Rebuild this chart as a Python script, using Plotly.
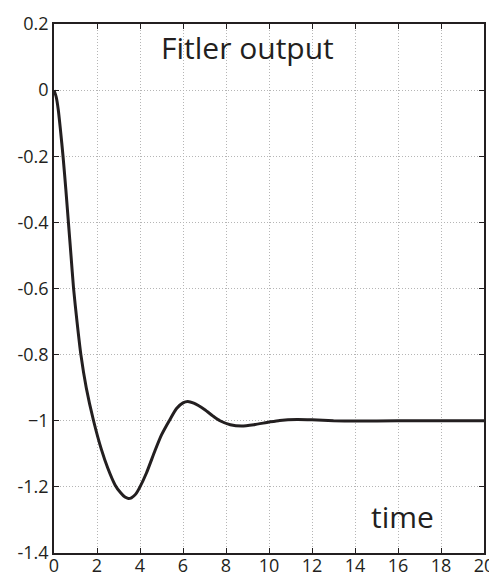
import plotly.graph_objects as go

# Data
time_vals = [0, 0.1, 0.2, 0.3, 0.42, 0.55, 0.67, 0.79, 0.91, 1.07, 1.25, 1.5, 1.84,
             2.2, 2.5, 2.84, 3.1, 3.3, 3.46, 3.6, 3.8, 4.0, 4.3, 4.7, 5.0, 5.36, 5.7, 6.0,
             6.22, 6.5, 7.0, 7.4, 7.72, 8.2, 8.73, 9.3, 10.0, 10.5, 11.3, 12, 13,
             14, 16, 18, 20]
output_vals = [0, -0.02, -0.06, -0.12, -0.2, -0.3, -0.4, -0.5, -0.6, -0.7, -0.8, -0.9, -1.0,
               -1.086, -1.143, -1.194, -1.218, -1.231, -1.235, -1.233, -1.222, -1.2, -1.158,
               -1.09, -1.043, -1.0, -0.963, -0.946, -0.942, -0.947, -0.966, -0.986, -1.0,
               -1.012, -1.016, -1.012, -1.004, -0.999, -0.996, -0.997, -1.0, -1.001,
               -1.0, -1.0, -1.0]

x_tick_vals = [0, 2, 4, 6, 8, 10, 12, 14, 16, 18, 20]
x_tick_text = ["0", "2", "4", "6", "8", "10", "12", "14", "16", "18", "20"]
y_tick_vals = [0.2, 0, -0.2, -0.4, -0.6, -0.8, -1.0, -1.2, -1.4]
y_tick_text = ["0.2", "0", "-0.2", "-0.4", "-0.6", "-0.8", "\u22121", "-1.2", "-1.4"]

title_text = "Fitler output"
xlabel_text = "time"

ink = "#231f20"
font_family = "Open Sans, Liberation Sans, sans-serif"

fig = go.Figure()
fig.add_trace(go.Scatter(
    x=time_vals, y=output_vals, mode="lines",
    line=dict(color=ink, width=3, shape="spline", smoothing=0.6),
    hoverinfo="skip", showlegend=False,
))

axis_common = dict(
    showline=True, linecolor=ink, linewidth=1.5, mirror="allticks",
    ticks="inside", ticklen=5, tickwidth=1, tickcolor=ink,
    showgrid=True, gridcolor="#b5b5b5", gridwidth=1, griddash="1px,2px",
    zeroline=False, automargin=False,
    tickfont=dict(family=font_family, size=18, color=ink),
)

# The page body has an 8px margin, so the figure is sized to fit the window
fig.update_layout(
    width=489, height=572,
    margin=dict(l=46, r=13, t=16, b=27),
    paper_bgcolor="white", plot_bgcolor="white",
    xaxis=dict(range=[0, 20], tickmode="array", tickvals=x_tick_vals,
               ticktext=x_tick_text, ticklabelstandoff=-4, **axis_common),
    yaxis=dict(range=[-1.4, 0.2], tickmode="array", tickvals=y_tick_vals,
               ticktext=y_tick_text, **axis_common),
    annotations=[
        dict(x=9.0, y=0.13, xref="x", yref="y", text=title_text, showarrow=False,
             font=dict(family=font_family, size=30, color=ink)),
        dict(x=16.2, y=-1.29, xref="x", yref="y", text=xlabel_text, showarrow=False,
             font=dict(family=font_family, size=30, color=ink)),
    ],
)

fig.write_html("out.html")
